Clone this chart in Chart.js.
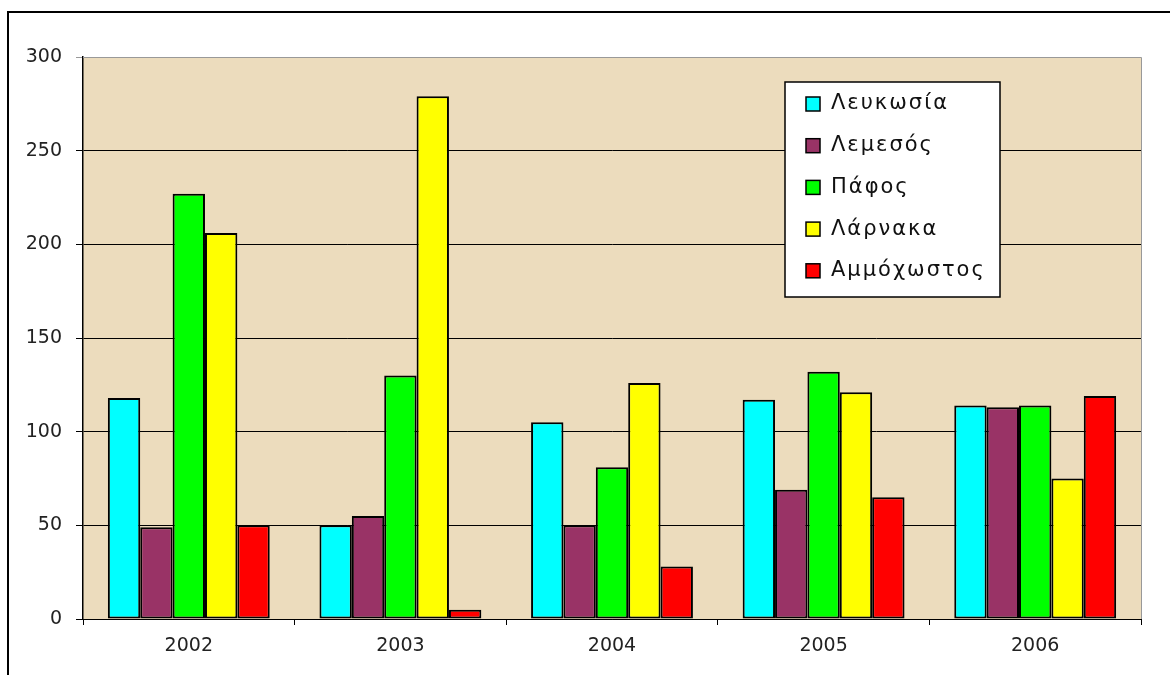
<!DOCTYPE html>
<html>
<head>
<meta charset="utf-8">
<script src="https://cdn.jsdelivr.net/npm/chart.js@4"></script>
<style>
  html, body { margin: 0; padding: 0; background: #fff; }
  #wrap { width: 1170px; height: 675px; }
</style>
</head>
<body>
<div id="wrap"><canvas id="chart" width="1170" height="675"></canvas></div>
<script>
var years = ['2002', '2003', '2004', '2005', '2006'];
var cities = ['Λευκωσία', 'Λεμεσός', 'Πάφος', 'Λάρνακα', 'Αμμόχωστος'];
var lefkosia = [118, 50, 105, 117, 114];
var lemesos = [49, 55, 50, 69, 113];
var pafos = [227, 130, 81, 132, 114];
var larnaka = [206, 279, 126, 121, 75];
var ammochostos = [50, 5, 28, 65, 119];

var colours = ['#00ffff', '#993366', '#00ff00', '#ffff00', '#ff0000'];
var series = [lefkosia, lemesos, pafos, larnaka, ammochostos];

var ctx = document.getElementById("chart").getContext('2d');
var tickFont = { family: '"DejaVu Sans", Verdana, sans-serif', size: 19 };

// frame, plot background and top/right edges of the plot
var backdrop = {
    id: 'backdrop',
    beforeDraw: function (chart) {
        var c = chart.ctx, a = chart.chartArea;
        c.save();
        c.fillStyle = '#fff';
        c.fillRect(0, 0, chart.width, chart.height);
        c.strokeStyle = '#000';
        c.lineWidth = 2;
        c.strokeRect(8, 12, chart.width + 20, chart.height + 20);
        c.fillStyle = '#ecdcbd';
        c.fillRect(a.left, a.top, a.right - a.left, a.bottom - a.top);
        c.restore();
    },
    afterDatasetsDraw: function (chart) {
        var c = chart.ctx, a = chart.chartArea;
        c.save();
        c.strokeStyle = '#999';
        c.lineWidth = 1;
        c.beginPath();
        c.moveTo(a.left, a.top + 0.5);
        c.lineTo(a.right + 0.5, a.top + 0.5);
        c.lineTo(a.right + 0.5, a.bottom);
        c.stroke();
        c.restore();
    }
};

// boxed legend sitting inside the plot, top right
var boxLegend = {
    id: 'boxLegend',
    afterDraw: function (chart) {
        var c = chart.ctx;
        var x = 785, y = 82, w = 215, h = 215;
        c.save();
        c.fillStyle = '#fff';
        c.fillRect(x, y, w, h);
        c.strokeStyle = '#000';
        c.lineWidth = 1.5;
        c.strokeRect(x, y, w, h);
        c.font = '21px "DejaVu Sans", Verdana, sans-serif';
        c.letterSpacing = '2px';
        c.textBaseline = 'middle';
        chart.data.datasets.forEach(function (ds, i) {
            var cy = y + 22 + i * 41.7;
            c.fillStyle = ds.backgroundColor;
            c.fillRect(x + 21, cy - 7, 14, 14);
            c.lineWidth = 1.5;
            c.strokeStyle = '#000';
            c.strokeRect(x + 21, cy - 7, 14, 14);
            c.fillStyle = '#111';
            c.fillText(ds.label, x + 46, cy);
        });
        c.restore();
    }
};

var chart = new Chart(ctx, {
    type: 'bar',
    data: {
        labels: years,
        datasets: cities.map(function (name, i) {
            return {
                label: name,
                data: series[i],
                backgroundColor: colours[i],
                borderColor: '#000',
                borderWidth: 2,
                borderSkipped: false,
                barPercentage: 1.0,
                categoryPercentage: 0.765
            };
        })
    },
    options: {
        responsive: false,
        animation: false,
        layout: { padding: { top: 57, right: 29, left: 0, bottom: 0 } },
        plugins: {
            legend: { display: false },
            tooltip: { enabled: false }
        },
        scales: {
            x: {
                grid: {
                    offset: true,
                    drawOnChartArea: false,
                    drawTicks: true,
                    tickLength: 6,
                    color: '#000'
                },
                border: { color: '#000', width: 1 },
                ticks: {
                    color: '#222',
                    padding: 10,
                    font: tickFont
                },
                afterFit: function (scale) { scale.height = 56; }
            },
            y: {
                min: 0,
                max: 300,
                ticks: {
                    stepSize: 50,
                    color: '#222',
                    padding: 14,
                    font: tickFont
                },
                grid: {
                    color: function (c) { return c.tick && c.tick.value === 300 ? '#999' : '#000'; },
                    lineWidth: 1,
                    tickLength: 7
                },
                border: { color: '#000', width: 1.5 },
                afterFit: function (scale) { scale.width = 83; }
            }
        }
    },
    plugins: [backdrop, boxLegend]
});
</script>
</body>
</html>
